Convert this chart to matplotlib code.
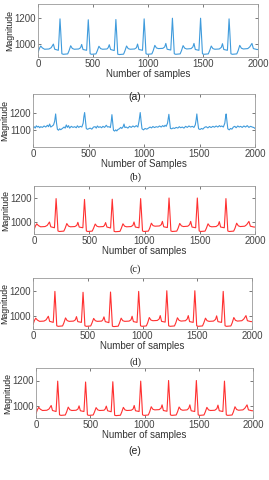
import matplotlib
matplotlib.use("Agg")
import matplotlib.pyplot as plt

# clean ECG trace (panels a, c, d, e) - vertices
clean_x = [0, 12, 25, 40, 60, 100,
           120, 140, 152, 185, 192, 200, 207, 217, 230, 270, 282, 297, 312, 330, 370,
           387, 397, 409, 442, 449, 457, 464, 474, 487, 527, 539, 554, 569, 587, 627,
           638, 648, 660, 693, 700, 708, 715, 725, 738, 778, 790, 805, 820, 838, 878,
           895, 905, 917, 950, 957, 965, 972, 982, 995, 1035, 1047, 1062, 1077, 1095, 1135,
           1152, 1162, 1174, 1207, 1214, 1222, 1229, 1239, 1252, 1292, 1304, 1319, 1334, 1352, 1392,
           1408, 1418, 1430, 1463, 1470, 1478, 1485, 1495, 1508, 1548, 1560, 1575, 1590, 1608, 1648,
           1667, 1677, 1689, 1722, 1729, 1737, 1744, 1754, 1767, 1807, 1819, 1834, 1849, 1867, 1907,
           1925, 1945, 1958, 1990, 2000]
clean_y = [935, 965, 985, 970, 960, 962,
           972, 1000, 960, 952, 1060, 1195, 1090, 925, 921, 924, 948, 987, 966, 960, 962,
           972, 997, 958, 952, 1060, 1188, 1085, 925, 921, 924, 948, 983, 965, 960, 962,
           972, 995, 958, 950, 1060, 1190, 1085, 922, 919, 922, 947, 985, 965, 960, 962,
           972, 1000, 958, 952, 1060, 1195, 1090, 925, 921, 924, 948, 990, 970, 965, 967,
           978, 1005, 960, 954, 1065, 1200, 1090, 925, 921, 924, 948, 988, 968, 962, 965,
           978, 1005, 958, 952, 1065, 1200, 1090, 925, 921, 924, 948, 985, 965, 960, 962,
           975, 1003, 958, 952, 1060, 1195, 1090, 925, 921, 924, 948, 990, 968, 962, 965,
           978, 1005, 965, 958, 958]

# noisy trace (panel b)
noisy_x = [0, 10, 20, 30, 40, 50, 60, 70, 85, 100, 115, 130, 140, 150, 160, 170, 185, 195,
           204, 212, 220, 230, 240, 250, 265, 280, 290, 300, 310, 320, 330, 345, 360, 375,
           390, 400, 412, 425, 440, 452, 458, 465, 472, 480, 490, 500, 515, 530, 545, 560,
           570, 580, 592, 605, 618, 630, 645, 660, 672, 685, 697, 705, 711, 718, 725, 735,
           745, 755, 765, 778, 790, 800, 812, 820, 828, 840, 855, 870, 885, 900, 915, 930,
           945, 955, 966, 974, 982, 995, 1010, 1025, 1040, 1055, 1068, 1080, 1095, 1110,
           1125, 1140, 1155, 1168, 1180, 1190, 1200, 1212, 1218, 1224, 1231, 1238, 1250,
           1262, 1275, 1290, 1305, 1318, 1330, 1345, 1360, 1375, 1390, 1405, 1420, 1435,
           1450, 1462, 1470, 1476, 1484, 1492, 1505, 1518, 1530, 1545, 1560, 1575, 1590,
           1605, 1620, 1635, 1650, 1665, 1680, 1690, 1700, 1715, 1728, 1734, 1740, 1747,
           1755, 1768, 1780, 1792, 1805, 1818, 1830, 1845, 1858, 1870, 1885, 1900, 1915,
           1930, 1945, 1960, 1975, 1990, 2000]
noisy_y = [1115, 1120, 1112, 1125, 1118, 1122, 1114, 1120, 1116, 1124, 1118, 1128, 1120, 1135,
           1118, 1122, 1130, 1150, 1192, 1140, 1105, 1100, 1108, 1103, 1110, 1118, 1112, 1130,
           1116, 1126, 1112, 1122, 1116, 1120, 1114, 1125, 1116, 1122, 1118, 1140, 1175, 1200,
           1160, 1110, 1105, 1108, 1112, 1106, 1118, 1120, 1112, 1124, 1116, 1120, 1114, 1122,
           1116, 1128, 1118, 1120, 1115, 1150, 1188, 1145, 1100, 1095, 1102, 1096, 1104, 1108,
           1116, 1110, 1120, 1135, 1115, 1118, 1112, 1122, 1116, 1124, 1118, 1126, 1118, 1150,
           1200, 1150, 1108, 1102, 1110, 1106, 1112, 1118, 1113, 1121, 1115, 1120, 1117, 1124,
           1118, 1126, 1120, 1128, 1122, 1140, 1165, 1190, 1150, 1110, 1108, 1113, 1110, 1116,
           1112, 1120, 1114, 1118, 1112, 1122, 1116, 1124, 1118, 1122, 1116, 1130, 1160, 1192,
           1145, 1108, 1104, 1110, 1106, 1116, 1120, 1113, 1121, 1115, 1122, 1117, 1124, 1118,
           1126, 1120, 1124, 1118, 1140, 1170, 1192, 1150, 1108, 1102, 1110, 1106, 1118, 1122,
           1114, 1124, 1118, 1122, 1116, 1124, 1118, 1126, 1116, 1122, 1118, 1115, 1110]

x_ticks = [0, 500, 1000, 1500, 2000]

BLUE = '#3f9bdc'
RED = '#ff3030'

fig = plt.figure(figsize=(2.69, 4.8), dpi=100)
W, H = 269.0, 480.0

# (left, top, right, bottom) in pixels, then label/caption placement
panels = [
    dict(box=(38, 4, 258, 57), x=clean_x, y=clean_y, c=BLUE, ylim=(900, 1310),
         yt=[1000, 1200], xl='Number of samples', cap='(a)', capy=97,
         capfont='Liberation Sans'),
    dict(box=(33, 94, 255, 147), x=noisy_x, y=noisy_y, c=BLUE, ylim=(1005, 1305),
         yt=[1100, 1200], xl='Number of Samples', cap='(b)', capy=177,
         capfont='Liberation Serif'),
    dict(box=(34, 186, 255, 234), x=clean_x, y=clean_y, c=RED, ylim=(900, 1300),
         yt=[1000, 1200], xl='Number of samples', cap='(c)', capy=269,
         capfont='Liberation Serif'),
    dict(box=(33, 278, 252, 329), x=clean_x, y=clean_y, c=RED, ylim=(900, 1300),
         yt=[1000, 1200], xl='Number of samples', cap='(d)', capy=362,
         capfont='Liberation Serif'),
    dict(box=(36, 368, 253, 418), x=clean_x, y=clean_y, c=RED, ylim=(900, 1300),
         yt=[1000, 1200], xl='Number of samples', cap='(e)', capy=451,
         capfont='Liberation Sans'),
]

for p in panels:
    l, t, r, b = p['box']
    ax = fig.add_axes([l / W, 1 - b / H, (r - l) / W, (b - t) / H])
    ax.plot(p['x'], p['y'], color=p['c'], linewidth=0.8)
    ax.set_xlim(0, 2000)
    ax.set_ylim(*p['ylim'])
    ax.set_xticks(x_ticks)
    ax.set_yticks(p['yt'])
    ax.tick_params(direction='in', length=2, width=0.5, top=True, right=True,
                   labelsize=7, colors='#444444', pad=1.5)
    for s in ax.spines.values():
        s.set_color('#999999')
        s.set_linewidth(0.6)
    ax.set_xlabel(p['xl'], fontsize=7, family='Liberation Sans',
                  color='#333333', labelpad=0)
    ax.set_ylabel('Magnitude', fontsize=6.3, family='Liberation Sans',
                  color='#222222', labelpad=0)
    for lab in ax.get_xticklabels() + ax.get_yticklabels():
        lab.set_family('Liberation Sans')
    fig.text(135 / W, 1 - p['capy'] / H, p['cap'], ha='center', va='center',
             fontsize=7.5, family=p['capfont'], color='#222222')

fig.savefig('out.png', dpi=100)
